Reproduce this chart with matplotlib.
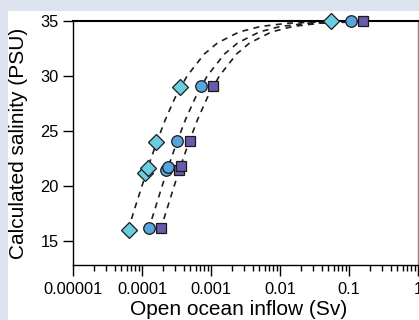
#!/usr/bin/python
# Calculated salinity versus open ocean inflow, three freshwater scenarios
import matplotlib.pyplot as plt
from matplotlib.patches import Rectangle
from matplotlib.ticker import LogLocator, FixedLocator

# Measured / calculated points (inflow in Sv, salinity in PSU)
diamond_inflow = [0.054, 3.55e-4, 1.62e-4, 1.12e-4, 1.24e-4, 6.4e-5]
diamond_salinity = [35.0, 29.0, 24.0, 21.2, 21.6, 16.0]

circle_inflow = [0.106, 7.2e-4, 3.26e-4, 2.26e-4, 2.42e-4, 1.28e-4]
circle_salinity = [35.0, 29.1, 24.1, 21.4, 21.7, 16.2]

square_inflow = [0.162, 1.07e-3, 4.9e-4, 3.4e-4, 3.64e-4, 1.91e-4]
square_salinity = [35.0, 29.1, 24.1, 21.4, 21.8, 16.2]

# Dashed mixing curves at fixed salinity levels
curve_salinity = [16, 18, 20, 22, 24, 26, 28, 30, 32, 33, 34, 34.5, 34.8, 34.95]
diamond_curve = [6.3e-5, 7.9e-5, 1.0e-4, 1.27e-4, 1.64e-4, 2.17e-4, 3.0e-4,
                 4.5e-4, 8.0e-4, 1.24e-3, 2.55e-3, 5.2e-3, 1.3e-2, 0.054]
circle_curve = [1.24e-4, 1.56e-4, 1.96e-4, 2.49e-4, 3.21e-4, 4.25e-4, 5.9e-4,
                8.8e-4, 1.57e-3, 2.43e-3, 5.0e-3, 1.01e-2, 2.56e-2, 0.106]
square_curve = [1.85e-4, 2.33e-4, 2.93e-4, 3.72e-4, 4.8e-4, 6.36e-4, 8.8e-4,
                1.32e-3, 2.35e-3, 3.63e-3, 7.5e-3, 1.52e-2, 3.83e-2, 0.162]

x_ticks = [1e-5, 1e-4, 1e-3, 1e-2, 1e-1, 1]
x_tick_labels = ['0.00001', '0.0001', '0.001', '0.01', '0.1', '1']
y_ticks = [15, 20, 25, 30, 35]

plt.rcParams['font.family'] = ['Liberation Sans', 'DejaVu Sans']

fig = plt.figure(figsize=(4.19, 3.2), dpi=100, facecolor='#dce4f0')
# white page inside the light blue frame
fig.patches.append(Rectangle((8 / 419, 0), 1, (320 - 11) / 320,
                             transform=fig.transFigure, facecolor='white',
                             edgecolor='none', zorder=-1))

ax = fig.add_axes([73 / 419, 55 / 320, 345 / 419, 244 / 320])
ax.set_facecolor('none')

# dashed curves behind the markers
for curve in [diamond_curve, circle_curve, square_curve]:
    ax.plot(curve, curve_salinity, color='#1e1e1e', linestyle=(0, (3.6, 3.2)),
            linewidth=1.2, zorder=2, clip_on=False)

ax.plot(diamond_inflow, diamond_salinity, linestyle='none', marker='D',
        markersize=8.5, markerfacecolor='#6ccde0', markeredgecolor='#1a1a1a',
        markeredgewidth=0.9, zorder=3, clip_on=False)
ax.plot(circle_inflow, circle_salinity, linestyle='none', marker='o',
        markersize=8.3, markerfacecolor='#58a5dd', markeredgecolor='#1a1a1a',
        markeredgewidth=0.9, zorder=3, clip_on=False)
ax.plot(square_inflow, square_salinity, linestyle='none', marker='s',
        markersize=7.8, markerfacecolor='#6a5aab', markeredgecolor='#1a1a1a',
        markeredgewidth=0.9, zorder=3, clip_on=False)

ax.set_xscale('log')
ax.set_xlim(1e-5, 1)
ax.set_ylim(12.8, 35)

ax.xaxis.set_major_locator(FixedLocator(x_ticks))
ax.set_xticklabels(x_tick_labels)
ax.xaxis.set_minor_locator(LogLocator(base=10, subs=range(2, 10), numticks=20))
ax.set_yticks(y_ticks)

ax.tick_params(axis='both', which='major', direction='out', length=8,
               width=1, labelsize=11.8, colors='black', pad=3)
ax.tick_params(axis='x', which='minor', direction='out', length=4, width=1)
ax.tick_params(axis='x', which='major', pad=4)
ax.tick_params(axis='y', which='major', length=7.5)

for side in ['left', 'bottom', 'right']:
    ax.spines[side].set_linewidth(1.0)
ax.spines['top'].set_linewidth(1.5)
ax.spines['right'].set_color('#888888')

ax.set_xlabel('Open ocean inflow (Sv)', fontsize=15)
ax.set_ylabel('Calculated salinity (PSU)', fontsize=15)
ax.xaxis.set_label_coords(0.48, -0.145)
ax.xaxis.label.set_verticalalignment('top')
ax.yaxis.set_label_coords(-0.157, 0.5)
ax.yaxis.label.set_verticalalignment('center')

fig.savefig('out.png', dpi=100, facecolor=fig.get_facecolor())
